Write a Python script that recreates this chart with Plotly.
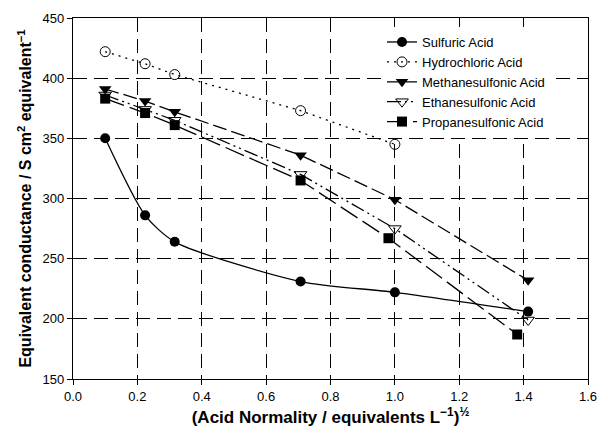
import plotly.graph_objects as go

# Square root of acid normality, (equivalents L^-1)^1/2
x_sulfuric = [0.1, 0.224, 0.316, 0.707, 1.0, 1.414]
y_sulfuric = [350, 286, 264, 231, 222, 206]

x_hydrochloric = [0.1, 0.224, 0.316, 0.707, 1.0]
y_hydrochloric = [422, 412, 403, 373, 345]

x_methane = [0.1, 0.224, 0.316, 0.707, 1.0, 1.414]
y_methane = [391, 381, 372, 336, 299, 232]

x_ethane = [0.1, 0.224, 0.316, 0.707, 1.0, 1.414]
y_ethane = [386, 374, 365, 320, 275, 199]

x_propane = [0.1, 0.224, 0.316, 0.707, 0.98, 1.38]
y_propane = [383, 371, 361, 315, 267, 187]

x_ticks = [0.0, 0.2, 0.4, 0.6, 0.8, 1.0, 1.2, 1.4, 1.6]
y_ticks = [150, 200, 250, 300, 350, 400, 450]

FONT = "Arial, Liberation Sans, sans-serif"

fig = go.Figure()

fig.add_trace(go.Scatter(
    x=x_sulfuric, y=y_sulfuric, name="Sulfuric Acid", mode="lines+markers",
    line=dict(color="black", width=1.3, shape="spline", smoothing=0.7),
    marker=dict(symbol="circle", size=10, color="black")))

fig.add_trace(go.Scatter(
    x=x_hydrochloric, y=y_hydrochloric, name="Hydrochloric Acid", mode="lines+markers",
    line=dict(color="black", width=1.3, dash="2px,5px"),
    marker=dict(symbol="circle-open", size=10, color="black", line=dict(width=1))))

fig.add_trace(go.Scatter(
    x=x_methane, y=y_methane, name="Methanesulfonic Acid", mode="lines+markers",
    line=dict(color="black", width=1.3, dash="14px,5px"),
    marker=dict(symbol="triangle-down", size=11, color="black")))

fig.add_trace(go.Scatter(
    x=x_ethane, y=y_ethane, name="Ethanesulfonic Acid", mode="lines+markers",
    line=dict(color="black", width=1.3, dash="14px,4px,2px,4px,2px,4px"),
    marker=dict(symbol="triangle-down-open", size=11, color="black", line=dict(width=1))))

fig.add_trace(go.Scatter(
    x=x_propane, y=y_propane, name="Propanesulfonic Acid", mode="lines+markers",
    line=dict(color="black", width=1.3, dash="20px,6px"),
    marker=dict(symbol="square", size=10, color="black")))

axis_common = dict(
    showline=True, linecolor="black", linewidth=1.3, mirror=True,
    ticks="outside", ticklen=5, tickcolor="black", tickwidth=1.3,
    showgrid=True, gridcolor="black", gridwidth=1.3, griddash="14px,7px",
    zeroline=False, tickfont=dict(family=FONT, size=13, color="black"),
)

fig.update_xaxes(
    range=[0, 1.6], tickvals=x_ticks, ticktext=[f"{v:.1f}" for v in x_ticks],
    title=dict(text="<b>(Acid Normality / equivalents L<sup>−1</sup>)<sup>½</sup></b>",
               font=dict(family=FONT, size=17, color="black"), standoff=8),
    **axis_common)
fig.update_yaxes(
    range=[150, 450], tickvals=y_ticks,
    title=dict(text="<b>Equivalent conductance / S cm<sup>2</sup> equivalent<sup>−1</sup></b>",
               font=dict(family=FONT, size=16, color="black"), standoff=6),
    **axis_common)

fig.update_layout(
    width=608, height=435,
    margin=dict(l=73, r=11, t=18, b=52),
    plot_bgcolor="white", paper_bgcolor="white",
    showlegend=True,
    legend=dict(x=0.6, y=0.975, xanchor="left", yanchor="top",
                bgcolor="white", borderwidth=0, tracegroupgap=0,
                font=dict(family=FONT, size=13, color="black"),
                itemwidth=30),
)

fig.write_html("out.html")
